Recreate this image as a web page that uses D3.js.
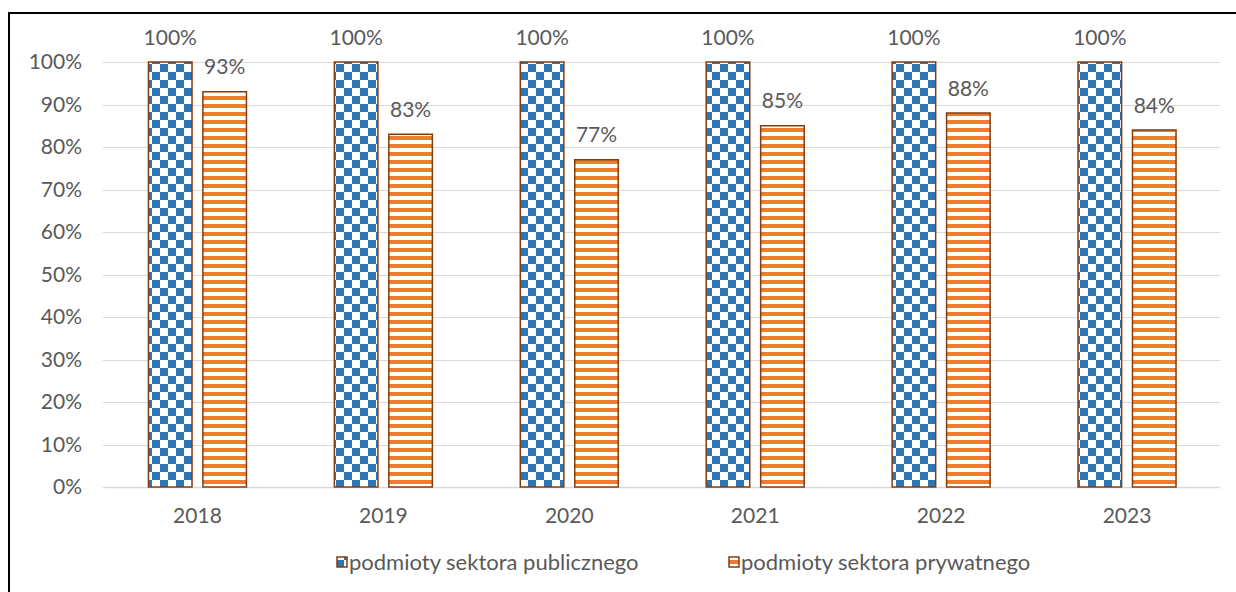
<!DOCTYPE html>
<html><head><meta charset="utf-8">
<script src="https://cdn.jsdelivr.net/npm/d3@7"></script>
<style>
html,body{margin:0;padding:0;background:#fff;}
svg text{font-family:Lato,"Open Sans",sans-serif;fill:#595959;}
</style></head>
<body><svg id="chart" width="1236" height="592"></svg>
<script>
const years = ["2018","2019","2020","2021","2022","2023"];
const seriesNames = ["podmioty sektora publicznego","podmioty sektora prywatnego"];
const publicValues = [100,100,100,100,100,100];
const privateValues = [93,83,77,85,88,84];
const yTicks = [0,10,20,30,40,50,60,70,80,90,100];

const svg = d3.select("#chart");
const m = {left:104.5, right:1220, top:62, bottom:487};
const fs = 21;

// border
svg.append("rect").attr("x",9).attr("y",13).attr("width",1260).attr("height",620)
  .attr("fill","none").attr("stroke","#000").attr("stroke-width",2);

const defs = svg.append("defs");
const chk = defs.append("pattern").attr("id","chk").attr("patternUnits","userSpaceOnUse")
  .attr("width",16).attr("height",16);
chk.append("rect").attr("width",16).attr("height",16).attr("fill","#fff");
chk.append("rect").attr("x",0).attr("y",0).attr("width",8).attr("height",8).attr("fill","#2E75B6");
chk.append("rect").attr("x",8).attr("y",8).attr("width",8).attr("height",8).attr("fill","#2E75B6");
const str = defs.append("pattern").attr("id","str").attr("patternUnits","userSpaceOnUse")
  .attr("width",8).attr("height",8);
str.append("rect").attr("width",8).attr("height",8).attr("fill","#fff");
str.append("rect").attr("y",0).attr("width",8).attr("height",4).attr("fill","#ED7D31");

const x0 = d3.scaleBand().domain(years).range([m.left,m.right]);
const x1 = d3.scaleBand().domain(seriesNames).range([0,98]).paddingInner(0.2);
const off = (x0.bandwidth()-98)/2;
const y = d3.scaleLinear().domain([0,100]).range([m.bottom,m.top]);

// grid
svg.append("g").selectAll("line").data(yTicks).join("line")
  .attr("x1",103).attr("x2",m.right)
  .attr("y1",d=>Math.round(y(d))+0.5).attr("y2",d=>Math.round(y(d))+0.5)
  .attr("stroke","#d9d9d9").attr("stroke-width",1);

// y axis labels
const yAxis = d3.axisLeft(y).tickValues(yTicks).tickFormat(d=>d+"%").tickSize(0).tickPadding(0);
const gy = svg.append("g").attr("transform",`translate(82,0)`).call(yAxis);
gy.select(".domain").remove();
gy.selectAll("text").style("font-size",fs+"px").attr("fill","#595959");

// x axis
const xAxis = d3.axisBottom(x0).tickSize(0).tickPadding(0);
const gx = svg.append("g").attr("transform",`translate(0,${m.bottom})`).call(xAxis);
gx.select(".domain").attr("stroke","#d9d9d9").attr("stroke-width",1.5);
gx.selectAll("text").style("font-size",fs+"px").attr("dy",0).attr("y",36).attr("fill","#595959");

const series = [
  {name:seriesNames[0], values:publicValues, fill:"url(#chk)"},
  {name:seriesNames[1], values:privateValues, fill:"url(#str)"}
];
series.forEach(s=>{
  const g = svg.append("g");
  g.selectAll("rect").data(years).join("rect")
    .attr("x",d=>x0(d)+off+x1(s.name))
    .attr("y",(d,i)=>y(s.values[i]))
    .attr("width",x1.bandwidth())
    .attr("height",(d,i)=>y(0)-y(s.values[i]))
    .attr("fill",s.fill).attr("stroke","#843C0C").attr("stroke-width",1.5);
  g.selectAll("text").data(years).join("text")
    .attr("x",d=>x0(d)+off+x1(s.name)+x1.bandwidth()/2)
    .attr("y",(d,i)=>y(s.values[i])-17.5)
    .attr("text-anchor","middle").style("font-size",fs+"px")
    .text((d,i)=>s.values[i]+"%");
});

// legend
const legX = [337,729];
series.forEach((s,i)=>{
  svg.append("rect").attr("x",legX[i]).attr("y",557).attr("width",10).attr("height",10)
    .attr("fill",s.fill).attr("stroke","#843C0C").attr("stroke-width",1.5);
  svg.append("text").attr("x",legX[i]+12).attr("y",570).style("font-size","22px").text(s.name);
});
</script></body></html>
